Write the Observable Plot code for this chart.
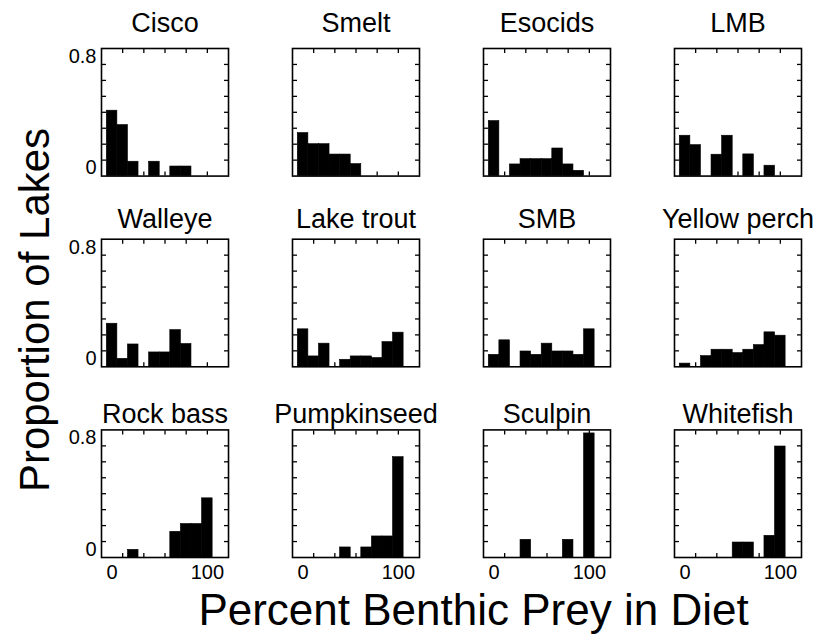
<!DOCTYPE html>
<html><head><meta charset="utf-8">
<script src="https://cdn.jsdelivr.net/npm/d3@7"></script>
<script src="https://cdn.jsdelivr.net/npm/@observablehq/plot@0.6"></script>
<style>body{margin:0;background:#fff}</style>
</head><body><div id="chart"></div>
<script>
// Species (panel titles), in reading order
const species = ["Cisco","Smelt","Esocids","LMB","Walleye","Lake trout","SMB","Yellow perch","Rock bass","Pumpkinseed","Sculpin","Whitefish"];
// Bin centres (% benthic prey in diet)
const binCenters = [0, 11.11, 22.22, 33.33, 44.44, 55.56, 66.67, 77.78, 88.89, 100];
// Proportion of lakes in each bin, per species
const cisco       = [0.41, 0.32, 0.09, 0, 0.09, 0, 0.06, 0.06, 0, 0];
const smelt       = [0.27, 0.20, 0.20, 0.135, 0.135, 0.075, 0, 0, 0, 0];
const esocids     = [0.345, 0, 0.073, 0.106, 0.106, 0.106, 0.173, 0.073, 0.033, 0];
const lmb         = [0.253, 0.194, 0, 0.134, 0.253, 0, 0.136, 0, 0.065, 0];
const walleye     = [0.27, 0.05, 0.14, 0, 0.09, 0.09, 0.23, 0.143, 0, 0];
const lakeTrout   = [0.235, 0.065, 0.145, 0, 0.044, 0.065, 0.065, 0.055, 0.155, 0.214];
const smb         = [0.075, 0.166, 0, 0.096, 0.075, 0.145, 0.096, 0.096, 0.075, 0.235];
const yellowPerch = [0.02, 0, 0.067, 0.107, 0.107, 0.086, 0.107, 0.136, 0.216, 0.195];
const rockBass    = [0, 0, 0.048, 0, 0, 0, 0.161, 0.21, 0.21, 0.371];
const pumpkinseed = [0, 0, 0, 0, 0.063, 0, 0.063, 0.132, 0.132, 0.629];
const sculpin     = [0, 0, 0, 0.111, 0, 0, 0, 0.111, 0, 0.778];
const whitefish   = [0, 0, 0, 0, 0, 0.094, 0.094, 0, 0.136, 0.696];
const series = [cisco, smelt, esocids, lmb, walleye, lakeTrout, smb, yellowPerch, rockBass, pumpkinseed, sculpin, whitefish];
// Tick values / labels
const yTickLabels = [0, 0.8];
const yMinorTicks = [0.1, 0.2, 0.3, 0.4, 0.5, 0.6, 0.7];
const xTickLabels = [0, 100];
const xMinorTicks = [11.11, 33.33, 55.56, 77.78, 100];
const xDomain = [-11.11, 122.22];
const yDomain = [0, 0.8];

const binWidth = binCenters[1] - binCenters[0];
const bars = [];
series.forEach((vals, s) => {
  vals.forEach((p, b) => {
    if (p > 0) bars.push({sp: species[s], col: s % 4, row: Math.floor(s / 4),
      x1: binCenters[b] - binWidth / 2, x2: binCenters[b] + binWidth / 2, p});
  });
});
const titles = species.map((name, s) => ({name, col: s % 4, row: Math.floor(s / 4)}));
const titleDy = [-25, -20, -16];

const font = "Liberation Sans, Arial, Helvetica, sans-serif";
const tickStyle = {fill: "none", label: null, facetAnchor: null, stroke: "black", strokeWidth: 1.3};
const fmt = d => String(d);

const chart = Plot.plot({
  width: 824, height: 635,
  marginLeft: 101, marginRight: 23, marginTop: 48, marginBottom: 78,
  style: {fontFamily: font, color: "black", background: "white"},
  facet: {marginTop: 0, marginRight: 0, marginBottom: 0, marginLeft: 0},
  fx: {domain: [0,1,2,3], paddingInner: 0.335, paddingOuter: 0, round: false, axis: null, label: null},
  fy: {domain: [0,1,2], paddingInner: 0.331, paddingOuter: 0, round: false, axis: null, label: null},
  x: {domain: xDomain, label: null},
  y: {domain: yDomain, label: null},
  marks: [
    Plot.rectY(bars, {fx: "col", fy: "row", x1: "x1", x2: "x2", y1: 0, y2: "p", fill: "black", stroke: "black", strokeWidth: 0.6}),
    Plot.frame({stroke: "black", strokeWidth: 1.6}),
    Plot.axisY({anchor: "left", ticks: yMinorTicks, tickSize: -5, ...tickStyle}),
    Plot.axisY({anchor: "right", ticks: yMinorTicks, tickSize: -5, ...tickStyle}),
    Plot.axisX({anchor: "top", ticks: xMinorTicks, tickSize: -4, ...tickStyle}),
    Plot.axisX({anchor: "bottom", ticks: xMinorTicks, tickSize: -4, ...tickStyle}),
    Plot.axisY({anchor: "left", ticks: [yTickLabels[1]], tickFormat: fmt, tickSize: 0, tickPadding: 5, fontSize: 20, dy: 8, label: null}),
    Plot.axisY({anchor: "left", ticks: [yTickLabels[0]], tickFormat: fmt, tickSize: 0, tickPadding: 5, fontSize: 20, dy: -8, label: null}),
    Plot.axisX({anchor: "bottom", ticks: xTickLabels, tickFormat: fmt, tickSize: 0, tickPadding: 7, fontSize: 20, label: null}),
    ...[0,1,2].map(r => Plot.text(titles.filter(d => d.row === r), {fx: "col", fy: "row", text: "name", frameAnchor: "top", lineAnchor: "middle", dy: titleDy[r], fontSize: 27, fill: "black"})),
    Plot.text(["Proportion of Lakes"], {facet: "super", frameAnchor: "left", textAnchor: "middle", lineAnchor: "middle", rotate: -90, dx: -66, dy: 7, fontSize: 42, fill: "black"}),
    Plot.text(["Percent Benthic Prey in Diet"], {facet: "super", frameAnchor: "bottom", textAnchor: "middle", lineAnchor: "middle", dy: 53, dx: 22, fontSize: 44, fill: "black"})
  ]
});
document.getElementById("chart").appendChild(chart);
</script>
</body></html>
